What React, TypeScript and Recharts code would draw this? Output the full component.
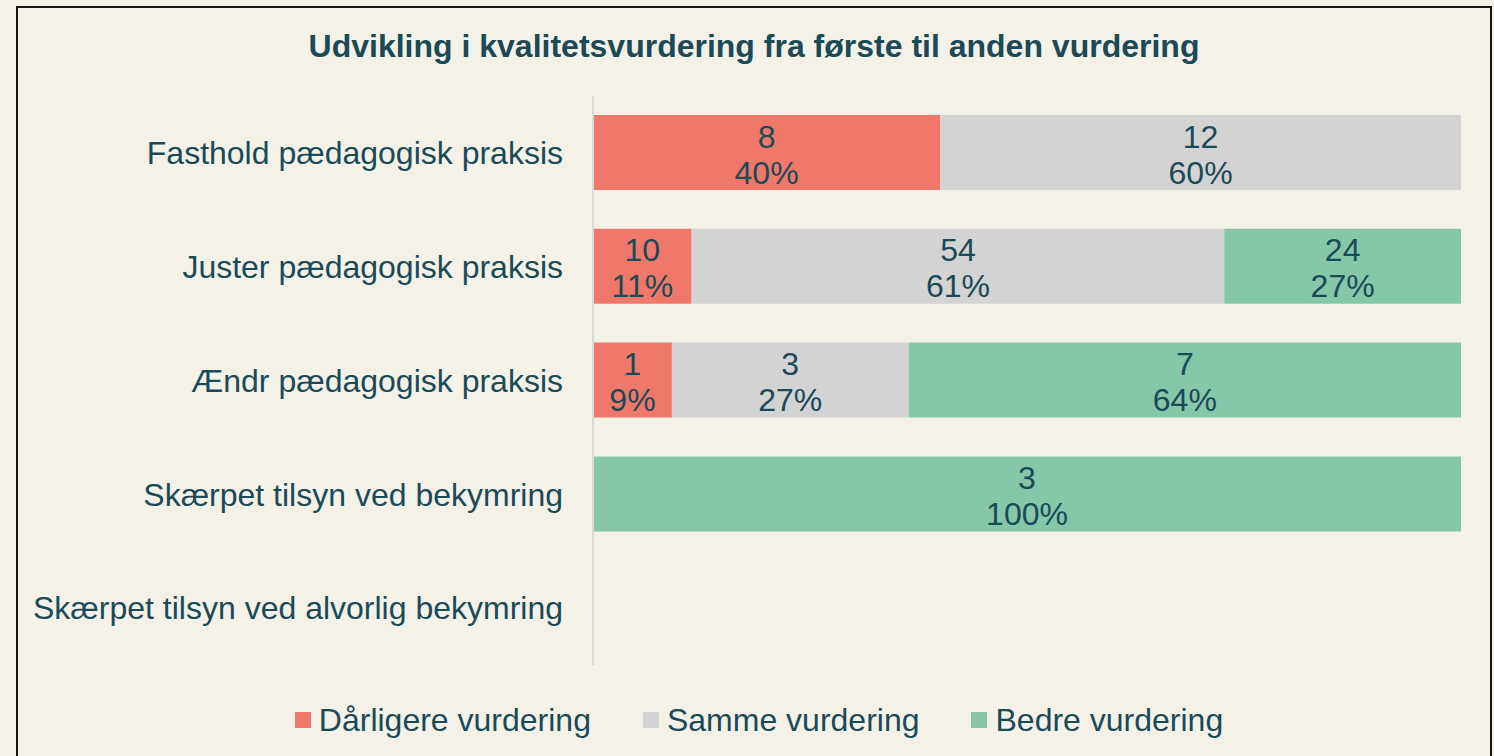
import { BarChart, Bar, XAxis, YAxis, Legend, LabelList } from "recharts"

const categories = [
  "Fasthold pædagogisk praksis",
  "Juster pædagogisk praksis",
  "Ændr pædagogisk praksis",
  "Skærpet tilsyn ved bekymring",
  "Skærpet tilsyn ved alvorlig bekymring",
]
const worse = [8, 10, 1, 0, 0]
const same = [12, 54, 3, 0, 0]
const better = [0, 24, 7, 3, 0]

const seriesNames = ["Dårligere vurdering", "Samme vurdering", "Bedre vurdering"]
const colors = ["#F0786A", "#D3D3D3", "#86C7AA"]

const BG = "#F4F1E9"
const TEXT = "#1B4A56"
const FONT = "'Liberation Sans', Arial, sans-serif"

function lbl(v: number, total: number): string {
  if (!v || !total) return ""
  return `${v}|${Math.round((v / total) * 100)}%`
}

const data = categories.map((name, i) => {
  const total = worse[i] + same[i] + better[i]
  return {
    name,
    worse: worse[i],
    same: same[i],
    better: better[i],
    worseLbl: lbl(worse[i], total),
    sameLbl: lbl(same[i], total),
    betterLbl: lbl(better[i], total),
  }
})

function renderLabel(props: any) {
  const { x, y, width, height, value } = props
  if (!value) return null
  const [count, pct] = String(value).split("|")
  const cx = Number(x) + Number(width) / 2
  const cy = Number(y) + Number(height) / 2
  return (
    <g>
      <text x={cx} y={cy - 16} textAnchor="middle" dominantBaseline="central" fill={TEXT} fontSize={32} fontFamily={FONT}>
        {count}
      </text>
      <text x={cx} y={cy + 20} textAnchor="middle" dominantBaseline="central" fill={TEXT} fontSize={32} fontFamily={FONT}>
        {pct}
      </text>
    </g>
  )
}

function renderLegend() {
  return (
    <div style={{ display: "flex", justifyContent: "center", alignItems: "center", gap: 52, fontFamily: FONT, fontSize: 32, color: TEXT, height: 40, paddingLeft: 57 }}>
      {seriesNames.map((n, i) => (
        <div key={n} style={{ display: "flex", alignItems: "center", gap: 8 }}>
          <span style={{ display: "inline-block", width: 16, height: 16, background: colors[i] }} />
          <span>{n}</span>
        </div>
      ))}
    </div>
  )
}

export default function App() {
  return (
    <div style={{ position: "absolute", left: 0, top: 0, width: 1494, height: 756, background: BG, overflow: "hidden" }}>
      <div style={{ position: "absolute", left: 16, top: 6, width: 1472, height: 800, border: "2px solid #141414" }} />
      <div
        style={{
          position: "absolute", left: 16, top: 28, width: 1476, textAlign: "center",
          fontFamily: FONT, fontWeight: "bold", fontSize: 32, lineHeight: "36px", color: TEXT,
        }}
      >
        Udvikling i kvalitetsvurdering fra første til anden vurdering
      </div>
      <div style={{ position: "absolute", left: 0, top: 0 }}>
        <BarChart
          width={1494}
          height={756}
          data={data}
          layout="vertical"
          stackOffset="expand"
          barSize={75}
          margin={{ top: 96, right: 33, left: 0, bottom: 51 }}
        >
          <XAxis type="number" domain={[0, 1]} hide />
          <YAxis
            type="category"
            dataKey="name"
            width={593}
            axisLine={{ stroke: "#D9D9D9", strokeWidth: 2 }}
            tickLine={false}
            tickSize={28}
            tickMargin={2}
            tick={{ fill: TEXT, fontSize: 32, fontFamily: FONT }}
          />
          <Legend
            verticalAlign="bottom"
            content={renderLegend}
            wrapperStyle={{ top: 700, bottom: "auto", height: 40 }}
          />
          <Bar dataKey="worse" name={seriesNames[0]} stackId="a" fill={colors[0]} isAnimationActive={false}>
            <LabelList dataKey="worseLbl" content={renderLabel} />
          </Bar>
          <Bar dataKey="same" name={seriesNames[1]} stackId="a" fill={colors[1]} isAnimationActive={false}>
            <LabelList dataKey="sameLbl" content={renderLabel} />
          </Bar>
          <Bar dataKey="better" name={seriesNames[2]} stackId="a" fill={colors[2]} isAnimationActive={false}>
            <LabelList dataKey="betterLbl" content={renderLabel} />
          </Bar>
        </BarChart>
      </div>
    </div>
  )
}
